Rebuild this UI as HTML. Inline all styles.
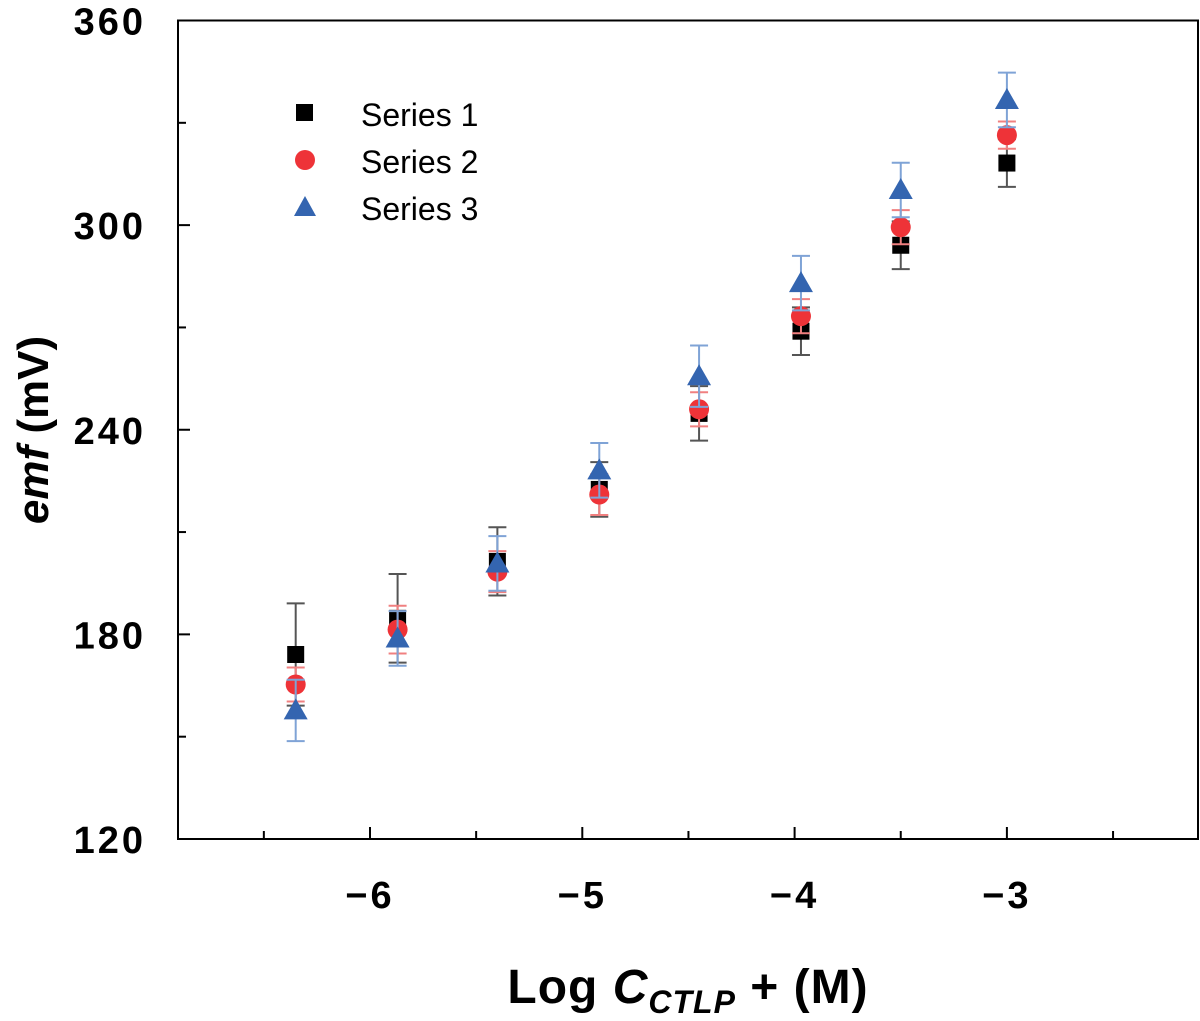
<!DOCTYPE html>
<html><head><meta charset="utf-8"><style>
body{margin:0;background:#fff;}
svg text{font-family:"Liberation Sans",Arial,sans-serif;}
</style></head><body>
<svg id="chart" width="1200" height="1016" viewBox="0 0 1200 1016" xmlns="http://www.w3.org/2000/svg">
<g id="axes"></g>
<g id="marks"></g>
<g>
<rect x="296" y="104" width="17" height="17" fill="#000"/>
<text x="361" y="126" font-size="32">Series 1</text>
<circle cx="305" cy="160" r="10" fill="#ee3338"/>
<text x="361" y="173" font-size="32">Series 2</text>
<polygon points="305,196 294,216 316,216" fill="#3465b0"/>
<text x="361" y="220" font-size="32">Series 3</text>
</g>
<text transform="translate(48,430) rotate(-90)" text-anchor="middle" font-size="44" font-weight="bold"><tspan font-style="italic">emf</tspan> (mV)</text>
<text x="688" y="1003" text-anchor="middle" font-size="48" font-weight="bold" letter-spacing="1">Log <tspan font-style="italic">C</tspan><tspan font-style="italic" font-size="32" dy="10">CTLP</tspan><tspan dy="-10"> + (M)</tspan></text>
</svg>
<script>
const xValues = [-6.35, -5.87, -5.4, -4.92, -4.45, -3.97, -3.5, -3.0];
const series1 = [174.1, 184.7, 201.4, 222.5, 244.8, 268.9, 294.1, 318.2];
const series1Err = [15, 13, 10, 8, 8, 7, 7, 7];
const series2 = [165.3, 181.4, 198.4, 221.0, 246.0, 273.3, 299.4, 326.4];
const series2Err = [5, 7, 6, 6, 5, 5, 5, 4];
const series3 = [157.7, 178.8, 200.8, 228.1, 255.7, 283.0, 310.3, 336.7];
const series3Err = [9, 8, 8, 8, 9, 8, 8, 8];
const yTicks = [120, 180, 240, 300, 360];
const yMinorTicks = [150, 210, 270, 330];
const xTicks = [-6, -5, -4, -3];
const xMinorTicks = [-6.5, -5.5, -4.5, -3.5, -2.5];

const L=178,R=1198,T=20.5,B=839;
const X=v=>370+(v+6)*212.3;
const Y=v=>B-(v-120)*(B-T)/240;
const NS="http://www.w3.org/2000/svg";
function mk(tag,attrs,parent){const e=document.createElementNS(NS,tag);for(const k in attrs)e.setAttribute(k,attrs[k]);parent.appendChild(e);return e;}
const ax=document.getElementById('axes'), mg=document.getElementById('marks');
let f=mk('rect',{x:L,y:T,width:R-L,height:B-T,fill:'none',stroke:'#000','stroke-width':2},ax);


yTicks.forEach(v=>{
 const l=mk('line',{x1:L,x2:L+12,y1:Y(v),y2:Y(v),stroke:'#000','stroke-width':2},ax);
 
 
 const t=mk('text',{x:L-32,y:Y(v)+14,'text-anchor':'end','font-size':38,'font-weight':'bold','letter-spacing':3},ax);
 t.textContent=v;
 
 
});
yMinorTicks.forEach(v=>{
 const l=mk('line',{x1:L,x2:L+8,y1:Y(v),y2:Y(v),stroke:'#000','stroke-width':2},ax);
 
 
});
xTicks.forEach(v=>{
 const l=mk('line',{x1:X(v),x2:X(v),y1:B,y2:B-12,stroke:'#000','stroke-width':2},ax);
 
 
 const t=mk('text',{x:X(v),y:908,'text-anchor':'middle','font-size':38,'font-weight':'bold','letter-spacing':3},ax);
 t.textContent='\u2212'+Math.abs(v);
 
 
});
xMinorTicks.forEach(v=>{
 const l=mk('line',{x1:X(v),x2:X(v),y1:B,y2:B-8,stroke:'#000','stroke-width':2},ax);
 
 
});
function errbar(x,v,e,col,name){
 const g=mk('g',{stroke:col,'stroke-width':2},mg);
 
 
 mk('line',{x1:x,x2:x,y1:Y(v+e),y2:Y(v-e)},g);
 mk('line',{x1:x-9,x2:x+9,y1:Y(v+e),y2:Y(v+e)},g);
 mk('line',{x1:x-9,x2:x+9,y1:Y(v-e),y2:Y(v-e)},g);
}
xValues.forEach((xv,i)=>{
 const x=X(xv);
 errbar(x,series1[i],series1Err[i],'#555','series-1-error-bar');
 const s=mk('rect',{x:x-8.5,y:Y(series1[i])-8.5,width:17,height:17,fill:'#000'},mg);
 
 
 errbar(x,series2[i],series2Err[i],'#f08080','series-2-error-bar');
 const c=mk('circle',{cx:x,cy:Y(series2[i]),r:10,fill:'#ee3338'},mg);
 
 
 errbar(x,series3[i],series3Err[i],'#7fa3d6','series-3-error-bar');
 const y=Y(series3[i]);
 const p=mk('polygon',{points:`${x},${y-12} ${x-12},${y+9} ${x+12},${y+9}`,fill:'#3465b0'},mg);
 
 
});
</script>
</body></html>
